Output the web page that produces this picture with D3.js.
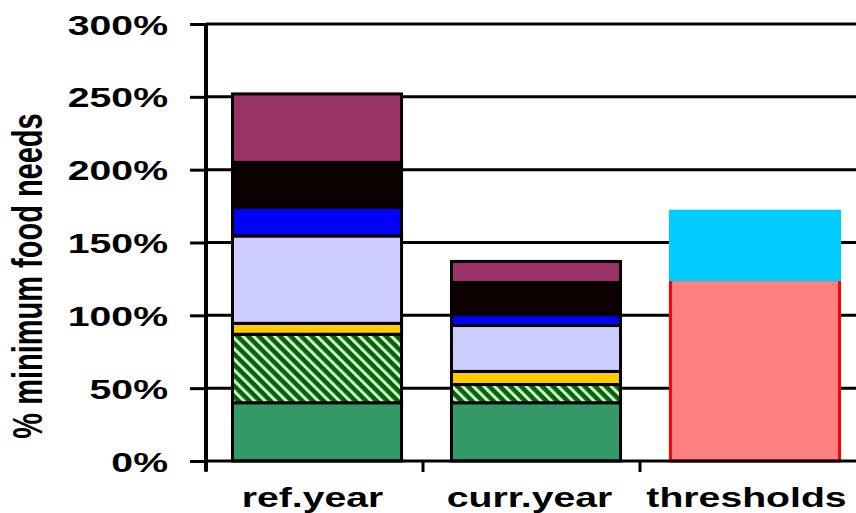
<!DOCTYPE html>
<html>
<head>
<meta charset="utf-8">
<script src="https://cdn.jsdelivr.net/npm/d3@7"></script>
<style>
  body { margin: 0; background: #fff; }
  text { font-family: "Liberation Sans", Arial, sans-serif; font-weight: bold; fill: #000; }
</style>
</head>
<body>
<svg width="856" height="513"></svg>
<script>
// categories on the x axis
const categories = ["ref.year", "curr.year", "thresholds"];
// stacked series, bottom to top, values in % of minimum food needs
const seriesNames = ["green", "hatched", "yellow", "lavender", "blue", "black", "purple", "lower", "upper"];
const green    = [40, 40, 0];
const hatched  = [47, 12.5, 0];
const yellow   = [7.5, 9, 0];
const lavender = [60, 31.5, 0];
const blue     = [19.5, 7.5, 0];
const black    = [31, 22, 0];
const purple   = [47, 14.5, 0];
const lower    = [0, 0, 124.5];
const upper    = [0, 0, 47];
const yTicks = [0, 50, 100, 150, 200, 250, 300];
const yTitle = "% minimum food needs";

const svg = d3.select("svg");
const plotLeft = 206, plotRight = 857, plotTop = 24, plotBottom = 461;
const sx = 1.4; // the picture is stretched sideways

// category slots (ticks, labels) and bars (slightly wider step in the picture)
const xCat = d3.scaleBand().domain(categories).range([plotLeft, plotRight]);
const x = d3.scaleBand().domain(categories).range([plotLeft, 866]).paddingInner(0.228).paddingOuter(0.121);
const y = d3.scaleLinear().domain([0, 300]).range([plotBottom, plotTop]);

// hatch pattern for the second series
const defs = svg.append("defs");
const pat = defs.append("pattern")
  .attr("id", "hatch")
  .attr("patternUnits", "userSpaceOnUse")
  .attr("width", 7.5).attr("height", 7.5)
  .attr("patternTransform", "rotate(-45)");
pat.append("rect").attr("width", 7.5).attr("height", 7.5).attr("fill", "#006600");
pat.append("rect").attr("width", 3).attr("height", 7.5).attr("fill", "#d6ecd6");

const fills = {
  green: "#339966", hatched: "url(#hatch)", yellow: "#ffcc00", lavender: "#ccccff",
  blue: "#0000ff", black: "#0c0000", purple: "#993366", lower: "#ff8080", upper: "#00ccff"
};
const strokes = {
  green: "#000", hatched: "#000", yellow: "#000", lavender: "#000", blue: "#000",
  black: "#000", purple: "#000", lower: "#ff0000", upper: "#00ccff"
};

// gridlines
svg.append("g").selectAll("line")
  .data(yTicks.slice(1))
  .enter().append("line")
  .attr("x1", plotLeft).attr("x2", 856)
  .attr("y1", d => y(d)).attr("y2", d => y(d))
  .attr("stroke", "#000").attr("stroke-width", 3);

// build stack table
const rows = categories.map((c, i) => {
  const r = { cat: c };
  r.green = green[i]; r.hatched = hatched[i]; r.yellow = yellow[i];
  r.lavender = lavender[i]; r.blue = blue[i]; r.black = black[i];
  r.purple = purple[i]; r.lower = lower[i]; r.upper = upper[i];
  return r;
});
const stacked = d3.stack().keys(seriesNames)(rows);

// draw the bars
svg.append("g").selectAll("g")
  .data(stacked)
  .enter().append("g")
  .attr("fill", d => fills[d.key])
  .attr("stroke", d => strokes[d.key])
  .attr("stroke-width", 3)
  .selectAll("rect")
  .data(d => d.filter(s => s[1] - s[0] > 0).map(s => ({ s, cat: s.data.cat })))
  .enter().append("rect")
  .attr("x", d => x(d.cat))
  .attr("width", x.bandwidth())
  .attr("y", d => y(d.s[1]))
  .attr("height", d => y(d.s[0]) - y(d.s[1]));

// y axis
const yAxis = svg.append("g")
  .attr("transform", "translate(" + plotLeft + ",0)")
  .call(d3.axisLeft(y).tickValues(yTicks).tickSize(16).tickFormat(d => d + "%"));
yAxis.select(".domain").remove();
yAxis.selectAll(".tick line").attr("stroke", "#000").attr("stroke-width", 3);
yAxis.selectAll(".tick text")
  .attr("x", -38 / sx)
  .attr("dy", "0.36em")
  .attr("font-size", 28)
  .attr("font-family", null)
  .attr("transform", "scale(" + sx + ",1)");
svg.append("line")
  .attr("x1", plotLeft).attr("x2", plotLeft)
  .attr("y1", plotTop - 1).attr("y2", plotBottom + 10)
  .attr("stroke", "#000").attr("stroke-width", 4);

// x axis
svg.append("line")
  .attr("x1", plotLeft).attr("x2", 856)
  .attr("y1", plotBottom).attr("y2", plotBottom)
  .attr("stroke", "#000").attr("stroke-width", 3);
svg.append("g").selectAll("line")
  .data(categories)
  .enter().append("line")
  .attr("x1", d => xCat(d)).attr("x2", d => xCat(d))
  .attr("y1", plotBottom).attr("y2", plotBottom + 11)
  .attr("stroke", "#000").attr("stroke-width", 3);
svg.append("g").selectAll("text")
  .data(categories)
  .enter().append("text")
  .attr("transform", d => "translate(" + (xCat(d) + xCat.bandwidth() / 2 - 2) + ",507) scale(" + sx + ",1)")
  .attr("text-anchor", "middle")
  .attr("font-size", 28)
  .text(d => d);

// y title
svg.append("text")
  .attr("transform", "translate(42,276) scale(1.45,1) rotate(-90)")
  .attr("text-anchor", "middle")
  .attr("font-size", 29)
  .text(yTitle);
</script>
</body>
</html>
